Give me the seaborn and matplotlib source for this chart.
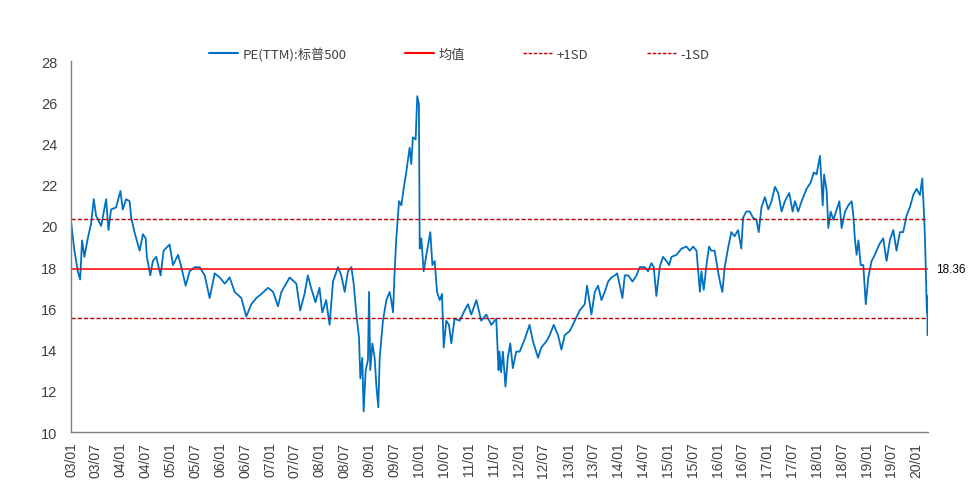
import matplotlib
matplotlib.use("Agg")
import matplotlib.pyplot as plt
import matplotlib.dates as mdates
import seaborn as sns
import pandas as pd
from matplotlib.lines import Line2D

dates = [
    "2003-01-02", "2003-01-25", "2003-02-19", "2003-03-08", "2003-03-22", "2003-04-08",
    "2003-05-03", "2003-05-27", "2003-06-16", "2003-07-03", "2003-08-09", "2003-09-15",
    "2003-10-02", "2003-10-21", "2003-11-27", "2003-12-29", "2004-01-15", "2004-02-09",
    "2004-03-05", "2004-03-17", "2004-04-10", "2004-05-18", "2004-06-11", "2004-07-01",
    "2004-07-10", "2004-08-04", "2004-08-23", "2004-09-17", "2004-10-19", "2004-11-10",
    "2004-12-24", "2005-01-18", "2005-02-24", "2005-03-20", "2005-04-21", "2005-05-20",
    "2005-06-26", "2005-08-02", "2005-09-08", "2005-10-14", "2005-11-20", "2005-12-27",
    "2006-02-02", "2006-03-10", "2006-04-16", "2006-06-04", "2006-07-10", "2006-08-16",
    "2006-09-22", "2006-10-29", "2006-12-17", "2007-01-23", "2007-02-28", "2007-03-25",
    "2007-05-25", "2007-07-13", "2007-08-10", "2007-09-11", "2007-10-05", "2007-10-29",
    "2007-11-30", "2007-12-30", "2008-01-19", "2008-02-17", "2008-03-13", "2008-04-07",
    "2008-05-14", "2008-06-07", "2008-07-02", "2008-07-26", "2008-08-20", "2008-09-06",
    "2008-09-26", "2008-10-15", "2008-10-25", "2008-11-08", "2008-11-18", "2008-12-03",
    "2008-12-20", "2008-12-28", "2009-01-06", "2009-01-21", "2009-02-07", "2009-02-20",
    "2009-03-06", "2009-03-16", "2009-04-09", "2009-05-04", "2009-05-28", "2009-06-09",
    "2009-06-22", "2009-07-04", "2009-07-16", "2009-08-05", "2009-08-22", "2009-09-08",
    "2009-09-27", "2009-10-22", "2009-11-03", "2009-11-15", "2009-12-05", "2009-12-17",
    "2009-12-29", "2010-01-04", "2010-01-16", "2010-02-02", "2010-02-22", "2010-03-23",
    "2010-04-07", "2010-04-24", "2010-05-11", "2010-05-31", "2010-06-17", "2010-06-29",
    "2010-07-18", "2010-08-07", "2010-08-24", "2010-09-17", "2010-10-24", "2010-11-30",
    "2010-12-24", "2011-01-18", "2011-02-24", "2011-04-01", "2011-05-08", "2011-06-14",
    "2011-07-20", "2011-08-06", "2011-08-13", "2011-08-25", "2011-09-07", "2011-09-26",
    "2011-10-13", "2011-10-31", "2011-11-19", "2011-12-14", "2012-01-08", "2012-02-14",
    "2012-03-21", "2012-04-15", "2012-05-22", "2012-06-15", "2012-07-22", "2012-08-16",
    "2012-09-14", "2012-10-16", "2012-11-10", "2012-12-04", "2013-01-10", "2013-02-16",
    "2013-03-24", "2013-04-30", "2013-05-17", "2013-06-18", "2013-07-13", "2013-08-06",
    "2013-08-31", "2013-09-24", "2013-10-19", "2013-11-12", "2013-12-07", "2013-12-24",
    "2014-01-13", "2014-02-01", "2014-02-18", "2014-03-15", "2014-04-16", "2014-05-15",
    "2014-06-08", "2014-07-15", "2014-08-08", "2014-09-02", "2014-09-19", "2014-10-08",
    "2014-11-02", "2014-11-26", "2014-12-21", "2015-01-10", "2015-01-27", "2015-03-05",
    "2015-04-11", "2015-05-17", "2015-06-11", "2015-07-05", "2015-07-30", "2015-08-24",
    "2015-09-04", "2015-09-21", "2015-10-11", "2015-10-30", "2015-11-16", "2015-12-10",
    "2016-01-04", "2016-01-21", "2016-02-05", "2016-02-22", "2016-03-17", "2016-04-11",
    "2016-05-05", "2016-05-30", "2016-06-23", "2016-07-06", "2016-07-30", "2016-08-24",
    "2016-09-17", "2016-10-12", "2016-10-29", "2016-11-18", "2016-12-13", "2017-01-07",
    "2017-01-31", "2017-02-25", "2017-03-21", "2017-04-15", "2017-05-09", "2017-06-10",
    "2017-07-05", "2017-07-22", "2017-08-15", "2017-09-09", "2017-10-15", "2017-11-14",
    "2017-12-08", "2017-12-28", "2018-01-22", "2018-02-11", "2018-02-21", "2018-03-12",
    "2018-03-24", "2018-04-10", "2018-04-30", "2018-05-24", "2018-06-13", "2018-06-30",
    "2018-07-25", "2018-08-18", "2018-09-12", "2018-09-24", "2018-10-06", "2018-10-18",
    "2018-10-31", "2018-11-17", "2018-12-06", "2018-12-24", "2019-01-12", "2019-02-05",
    "2019-03-01", "2019-04-02", "2019-05-01", "2019-05-26", "2019-06-19", "2019-07-14",
    "2019-08-07", "2019-09-01", "2019-09-25", "2019-10-20", "2019-11-13", "2019-12-08",
    "2020-01-01", "2020-01-26", "2020-02-12", "2020-02-24", "2020-03-03", "2020-03-10",
    "2020-03-17", "2020-03-20", "2020-03-23", "2020-03-26",
]

pe_values = [
    20.1, 18.8, 17.8, 17.4, 19.3, 18.5,
    19.4, 20.1, 21.3, 20.5, 20.0, 21.3,
    19.8, 20.8, 20.9, 21.7, 20.8, 21.3,
    21.2, 20.4, 19.7, 18.8, 19.6, 19.4,
    18.5, 17.6, 18.3, 18.5, 17.6, 18.8,
    19.1, 18.1, 18.6, 18.0, 17.1, 17.8,
    18.0, 18.0, 17.6, 16.5, 17.7, 17.5,
    17.2, 17.5, 16.8, 16.5, 15.6, 16.2,
    16.5, 16.7, 17.0, 16.8, 16.1, 16.8,
    17.5, 17.2, 15.9, 16.7, 17.6, 17.0,
    16.3, 17.0, 15.8, 16.4, 15.2, 17.3,
    18.0, 17.6, 16.8, 17.8, 18.0, 17.2,
    15.7, 14.6, 12.6, 13.6, 11.0, 13.0,
    13.5, 16.8, 13.0, 14.3, 13.6, 12.2,
    11.2, 13.6, 15.4, 16.4, 16.8, 16.4,
    15.8, 17.8, 19.4, 21.2, 21.0, 21.8,
    22.6, 23.8, 23.0, 24.3, 24.2, 26.3,
    25.9, 18.9, 19.4, 17.8, 18.6, 19.7,
    18.1, 18.3, 16.8, 16.4, 16.7, 14.1,
    15.4, 15.2, 14.3, 15.5, 15.4, 15.9,
    16.2, 15.7, 16.4, 15.4, 15.7, 15.2,
    15.5, 13.0, 13.9, 12.9, 13.9, 12.2,
    13.6, 14.3, 13.1, 13.9, 13.9, 14.5,
    15.2, 14.4, 13.6, 14.1, 14.4, 14.7,
    15.2, 14.7, 14.0, 14.7, 14.9, 15.4,
    15.9, 16.2, 17.1, 15.7, 16.8, 17.1,
    16.4, 16.8, 17.3, 17.5, 17.6, 17.7,
    17.1, 16.5, 17.6, 17.6, 17.3, 17.6,
    18.0, 18.0, 17.8, 18.2, 18.0, 16.6,
    18.0, 18.5, 18.3, 18.1, 18.5, 18.6,
    18.9, 19.0, 18.8, 19.0, 18.8, 16.8,
    17.8, 16.9, 18.1, 19.0, 18.8, 18.8,
    17.8, 17.2, 16.8, 18.0, 18.9, 19.7,
    19.5, 19.8, 18.9, 20.4, 20.7, 20.7,
    20.4, 20.3, 19.7, 20.9, 21.4, 20.8,
    21.2, 21.9, 21.6, 20.7, 21.2, 21.6,
    20.7, 21.2, 20.7, 21.2, 21.8, 22.1,
    22.6, 22.5, 23.4, 21.0, 22.5, 21.7,
    19.9, 20.7, 20.3, 20.8, 21.2, 19.9,
    20.7, 21.0, 21.2, 20.5, 19.3, 18.6,
    19.3, 18.1, 18.1, 16.2, 17.5, 18.3,
    18.6, 19.1, 19.4, 18.3, 19.3, 19.8,
    18.8, 19.7, 19.7, 20.5, 20.9, 21.5,
    21.8, 21.5, 22.3, 20.7, 19.4, 17.5,
    15.8, 16.2, 14.7, 16.6,
]

mean_val = 17.92
sd_val = 2.40
mean_label = "18.36"
series_name = "PE(TTM):标普500"
legend_names = ["均值", "+1SD", "-1SD"]

df = pd.DataFrame({"date": pd.to_datetime(dates), "pe": pe_values})

sns.set_theme(style="white")
plt.rcParams["font.family"] = ["Liberation Sans", "Noto Sans CJK SC", "DejaVu Sans"]

fig = plt.figure(figsize=(9.73, 4.89), dpi=100)
ax = fig.add_axes([0.073, 0.1145, 0.881, 0.7585])

blue = "#0070C0"
sns.lineplot(data=df, x="date", y="pe", ax=ax, color=blue, linewidth=1.3)
ax.axhline(mean_val, color="#FF0000", linewidth=1.1)
ax.axhline(mean_val + sd_val, color="#C00000", linewidth=1.0, linestyle=(0, (3, 1.5)))
ax.axhline(mean_val - sd_val, color="#C00000", linewidth=1.0, linestyle=(0, (3, 1.5)))

ax.set_xlim(pd.Timestamp("2002-12-31"), pd.Timestamp("2020-03-27"))
ax.set_ylim(10, 28)
ax.set_yticks(range(10, 29, 2))
ax.xaxis.set_major_locator(mdates.MonthLocator(bymonth=[1, 7]))
ax.xaxis.set_major_formatter(mdates.DateFormatter("%y/%m"))
ax.set_xlabel("")
ax.set_ylabel("")

for s in ["top", "right"]:
    ax.spines[s].set_visible(False)
for s in ["left", "bottom"]:
    ax.spines[s].set_color("#808080")
    ax.spines[s].set_linewidth(1.0)

ax.tick_params(axis="x", which="major", direction="out", length=4, width=0.8,
               color="#808080", labelsize=10, labelcolor="#404040", rotation=90, pad=3)
ax.tick_params(axis="y", which="major", direction="out", length=4, width=0.8,
               color="#808080", labelsize=10.5, labelcolor="#404040", pad=6)

ax.text(1.009, mean_val, mean_label, transform=ax.get_yaxis_transform(),
        ha="left", va="center", fontsize=8.5, color="#000000")

handles = [
    Line2D([], [], color=blue, linewidth=1.5),
    Line2D([], [], color="#FF0000", linewidth=1.5),
    Line2D([], [], color="#C00000", linewidth=1.0, linestyle=(0, (2.5, 1.2))),
    Line2D([], [], color="#C00000", linewidth=1.0, linestyle=(0, (2.5, 1.2))),
]
labels = [series_name] + legend_names
fig.legend(handles, labels, loc="center", bbox_to_anchor=(0.472, 0.888), ncol=4,
           frameon=False, handlelength=2.2, handletextpad=0.35, columnspacing=4.4,
           prop={"family": ["Noto Sans CJK SC", "DejaVu Sans"], "size": 9.5},
           labelcolor="#404040")

fig.savefig("out.png", dpi=100)
